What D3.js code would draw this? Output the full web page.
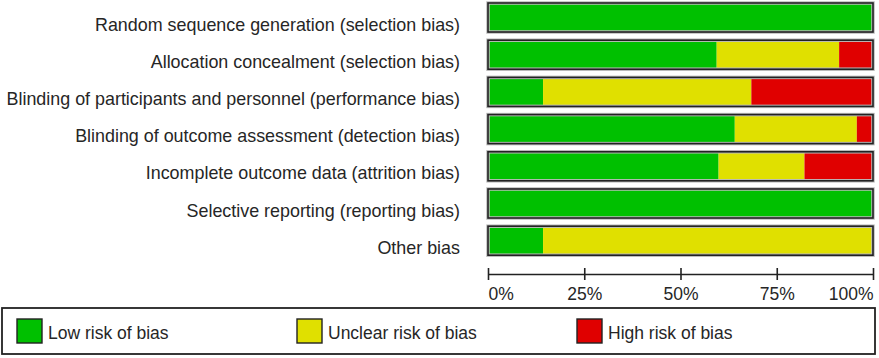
<!DOCTYPE html>
<html>
<head>
<meta charset="utf-8">
<script src="https://cdn.jsdelivr.net/npm/d3@7"></script>
<style>
  html, body { margin: 0; padding: 0; background: #fff; }
  svg { display: block; font-family: Arial, "Liberation Sans", Helvetica, sans-serif; }
</style>
</head>
<body>
<svg id="chart" width="879" height="358"></svg>
<script>
const categories = [
  "Random sequence generation (selection bias)",
  "Allocation concealment (selection bias)",
  "Blinding of participants and personnel (performance bias)",
  "Blinding of outcome assessment (detection bias)",
  "Incomplete outcome data (attrition bias)",
  "Selective reporting (reporting bias)",
  "Other bias"
];
const lowRisk     = [100, 59.4, 14.3, 64.1, 59.9, 100, 14.3];
const unclearRisk = [0,   31.8, 54.1, 31.7, 22.3, 0,   85.7];
const highRisk    = [0,   8.8,  31.6, 4.2,  17.8, 0,   0];
const seriesNames = ["Low risk of bias", "Unclear risk of bias", "High risk of bias"];
const seriesColors = ["#00c000", "#e0e000", "#e00000"];
const tickValues = [0, 25, 50, 75, 100];
const tickLabels = ["0%", "25%", "50%", "75%", "100%"];

const svg = d3.select("#chart");
const fontSize = 17.5;
const catFontSize = 17.9;
const textColor = "#262626";

const x = d3.scaleLinear().domain([0, 100]).range([488, 873]);
const y = d3.scaleBand().domain(categories).range([3, 255.2]).paddingInner(0.22).paddingOuter(0);

const rows = categories.map((c, i) => ({ cat: c, vals: [lowRisk[i], unclearRisk[i], highRisk[i]] }));

const rowG = svg.selectAll("g.row").data(rows).enter().append("g").attr("class", "row");

rowG.each(function(d) {
  const g = d3.select(this);
  let cum = 0;
  const segs = d.vals.map((v, k) => { const s = { x0: cum, x1: cum + v, k }; cum += v; return s; })
    .filter(s => s.x1 > s.x0);
  g.selectAll("rect.seg").data(segs).enter().append("rect")
    .attr("class", "seg")
    .attr("x", s => x(s.x0))
    .attr("width", s => x(s.x1) - x(s.x0))
    .attr("y", y(d.cat))
    .attr("height", y.bandwidth())
    .attr("fill", s => seriesColors[s.k]);
  g.append("rect")
    .attr("x", x(0)).attr("width", x(100) - x(0))
    .attr("y", y(d.cat)).attr("height", y.bandwidth())
    .attr("fill", "none").attr("stroke", "#bbb").attr("stroke-width", 3.5);
  g.append("rect")
    .attr("x", x(0)).attr("width", x(100) - x(0))
    .attr("y", y(d.cat)).attr("height", y.bandwidth())
    .attr("fill", "none").attr("stroke", "#222").attr("stroke-width", 1.6);
  g.append("text")
    .attr("x", 460)
    .attr("y", y(d.cat) + y.bandwidth() - 1.5)
    .attr("text-anchor", "end")
    .attr("font-size", catFontSize)
    .attr("fill", textColor)
    .text(d.cat);
});

// Axis
const axisY = 274;
const axis = d3.axisBottom(x).tickValues(tickValues).tickSize(0).tickFormat("");
const axG = svg.append("g").attr("transform", `translate(0,${axisY})`).call(axis);
axG.select(".domain").attr("stroke", "#222").attr("stroke-width", 1.6);
axG.selectAll(".tick").append("line")
  .attr("y1", -6).attr("y2", 6)
  .attr("stroke", "#222").attr("stroke-width", 1.6);
axG.selectAll(".tick").append("text")
  .attr("y", 300 - axisY)
  .attr("font-size", fontSize)
  .attr("fill", textColor)
  .attr("text-anchor", (d, i) => i === 0 ? "start" : (i === tickValues.length - 1 ? "end" : "middle"))
  .text((d, i) => tickLabels[i]);

// Legend
svg.append("rect")
  .attr("x", 2).attr("y", 308).attr("width", 873).attr("height", 46)
  .attr("fill", "#fff").attr("stroke", "#222").attr("stroke-width", 1.8);
const legendX = d3.scalePoint().domain(seriesNames).range([17, 577]);
const lg = svg.selectAll("g.leg").data(seriesNames).enter().append("g")
  .attr("transform", d => `translate(${legendX(d)},319)`);
lg.append("rect").attr("width", 25).attr("height", 24)
  .attr("fill", (d, i) => seriesColors[i]).attr("stroke", "#222").attr("stroke-width", 1.4);
lg.append("text").attr("x", 31).attr("y", 20)
  .attr("font-size", fontSize).attr("fill", textColor).text(d => d);
</script>
</body>
</html>
